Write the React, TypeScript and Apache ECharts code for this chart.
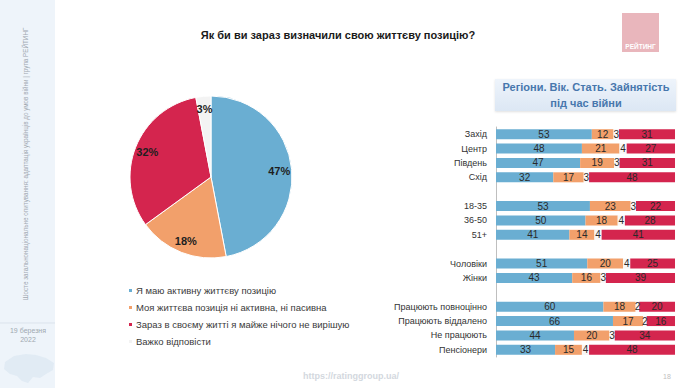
import React, { useEffect, useRef } from "react";
import * as echarts from "echarts";

const pieNames = [
  "Я маю активну життєву позицію",
  "Моя життєва позиція ні активна, ні пасивна",
  "Зараз в своєму житті я майже нічого не вирішую",
  "Важко відповісти",
];
const pieValues = [47, 18, 32, 3];
const colors = ["#6aaed2", "#f2a06b", "#d4254e", "#f3f3f3"];

const categories = [
  "Захід", "Центр", "Південь", "Схід", " ",
  "18-35", "36-50", "51+", "  ",
  "Чоловіки", "Жінки", "   ",
  "Працюють повноцінно", "Працюють віддалено", "Не працюють", "Пенсіонери",
];
const activeVals = [53, 48, 47, 32, null, 53, 50, 41, null, 51, 43, null, 60, 66, 44, 33];
const neutralVals = [12, 21, 19, 17, null, 23, 18, 14, null, 20, 16, null, 18, 17, 20, 15];
const hardVals = [3, 4, 3, 3, null, 3, 4, 4, null, 4, 3, null, 2, 2, 3, 4];
const passiveVals = [31, 27, 31, 48, null, 22, 28, 41, null, 25, 39, null, 20, 16, 34, 48];

const SANS = "'Liberation Sans', Arial, sans-serif";

export default function App() {
  const ref = useRef<HTMLDivElement>(null);
  useEffect(() => {
    document.body.style.margin = "0";
    const chart = echarts.init(ref.current!, undefined, { renderer: "svg" });
    const groups = [activeVals, neutralVals, hardVals, passiveVals];
    const barColors = [colors[0], colors[1], "#f7f7f7", colors[2]];
    const totals = categories.map((_, i) =>
      groups.reduce((s, g) => s + ((g[i] as number) || 0), 0)
    );
    const barSeries = groups.map((g, k) => ({
      type: "bar",
      name: "bar" + k,
      stack: "all",
      barWidth: 10,
      data: g.map((v, i) => (v == null ? "-" : ((v as number) / totals[i]) * 100)),
      itemStyle: { color: barColors[k] },
      label: {
        show: true,
        position: "inside",
        color: "#2a2a2a",
        fontSize: 10,
        fontFamily: SANS,
        formatter: (p: any) => (g[p.dataIndex] == null ? "" : String(g[p.dataIndex])),
      },
    }));
    const pieData = pieNames.map((n, i) => ({ name: n, value: pieValues[i], itemStyle: { color: colors[i] } }));
    chart.setOption({
      animation: false,
      backgroundColor: "#ffffff",
      legend: {
        orient: "vertical",
        left: 127,
        top: 284,
        padding: 0,
        data: pieNames,
        icon: "rect",
        itemWidth: 5,
        itemHeight: 5,
        itemGap: 4,
        textStyle: { fontSize: 9.5, fontFamily: SANS, color: "#3a3a3a", lineHeight: 13, padding: [0, 0, 0, -2] },
      },
      grid: { left: 496, right: 15, top: 127, bottom: 31 },
      xAxis: { type: "value", min: 0, max: 100, show: false },
      yAxis: {
        type: "category",
        inverse: true,
        data: categories,
        axisLine: { show: true, lineStyle: { color: "#bfbfbf" } },
        axisTick: { show: false },
        axisLabel: { color: "#333", fontSize: 9, fontFamily: SANS, margin: 9 },
      },
      series: [
        {
          type: "pie",
          name: "pie",
          center: [211, 177],
          radius: [0, 81],
          startAngle: 90,
          clockwise: true,
          data: pieData,
          itemStyle: { borderColor: "#ffffff", borderWidth: 1 },
          label: { show: false },
          labelLine: { show: false },
          silent: true,
        },
        {
          type: "pie",
          name: "pieLabels",
          center: [211, 177],
          radius: [50, 81],
          startAngle: 90,
          clockwise: true,
          data: pieNames.map((n, i) => ({ name: n, value: pieValues[i] })),
          itemStyle: { color: "rgba(0,0,0,0)" },
          label: {
            show: true,
            position: "inside",
            formatter: "{c}%",
            fontSize: 11,
            fontWeight: "bold",
            fontFamily: SANS,
            color: "#1e1e1e",
          },
          labelLine: { show: false },
          silent: true,
        },
        ...barSeries,
      ],
      graphic: [
        { type: "rect", shape: { x: 0, y: 0, width: 55, height: 388 }, style: { fill: "#eef4fa" }, silent: true },
        {
          type: "text",
          x: 25,
          y: 164,
          rotation: Math.PI / 2,
          style: {
            text: "Шосте загальнонаціональне опитування: адаптація українців до умов війни | група РЕЙТИНГ",
            fill: "#a0a8b0",
            fontSize: 6.3,
            fontFamily: SANS,
            align: "center",
            verticalAlign: "middle",
          },
        },
        { type: "line", shape: { x1: 0, y1: 323, x2: 55, y2: 323 }, style: { stroke: "#dbe3ec", lineWidth: 1 } },
        {
          type: "text",
          x: 28,
          y: 335,
          style: {
            text: "19 березня\n2022",
            fill: "#a0a8b0",
            fontSize: 7,
            lineHeight: 9,
            fontFamily: SANS,
            align: "center",
            verticalAlign: "middle",
          },
        },
        {
          type: "polygon",
          shape: {
            points: [[5, 362], [14, 356], [26, 354], [36, 355], [46, 358], [54, 363], [53, 370], [46, 374], [40, 378], [33, 377], [28, 383], [22, 381], [17, 376], [10, 374], [4, 369]],
          },
          style: { fill: "#dde8f3", opacity: 0.8 },
        },
        {
          type: "text",
          x: 338,
          y: 35,
          style: {
            text: "Як би ви зараз визначили свою життєву позицію?",
            fill: "#1a1a1a",
            fontSize: 11,
            fontWeight: "bold",
            fontFamily: SANS,
            align: "center",
            verticalAlign: "middle",
          },
        },
        { type: "rect", shape: { x: 622, y: 13, width: 37, height: 39 }, style: { fill: "#e9b6bc" } },
        {
          type: "text",
          x: 640.5,
          y: 46,
          style: { text: "РЕЙТИНГ", fill: "#ffffff", fontSize: 6.5, fontWeight: "bold", fontFamily: SANS, align: "center", verticalAlign: "middle" },
        },
        {
          type: "rect",
          shape: { x: 495, y: 79, width: 181, height: 32 },
          style: {
            fill: new echarts.graphic.LinearGradient(0, 0, 0, 1, [
              { offset: 0, color: "#eef4fb" },
              { offset: 1, color: "#dce7f4" },
            ]),
            shadowColor: "rgba(0,0,0,0.12)",
            shadowBlur: 2,
            shadowOffsetY: 1,
          },
        },
        {
          type: "text",
          x: 586,
          y: 95,
          style: {
            text: "Регіони. Вік. Стать. Зайнятість\nпід час війни",
            fill: "#4777ad",
            fontSize: 11,
            lineHeight: 16,
            fontWeight: "bold",
            fontFamily: SANS,
            align: "center",
            verticalAlign: "middle",
          },
        },
        {
          type: "text",
          x: 351,
          y: 376,
          style: { text: "https://ratinggroup.ua/", fill: "#d3d8de", fontSize: 9, fontWeight: "bold", fontFamily: SANS, align: "center", verticalAlign: "middle" },
        },
        {
          type: "text",
          x: 667,
          y: 376,
          style: { text: "18", fill: "#c0c0c0", fontSize: 7, fontFamily: SANS, align: "center", verticalAlign: "middle" },
        },
      ],
    });
    return () => chart.dispose();
  }, []);
  return <div ref={ref} style={{ width: 690, height: 388 }} />;
}
